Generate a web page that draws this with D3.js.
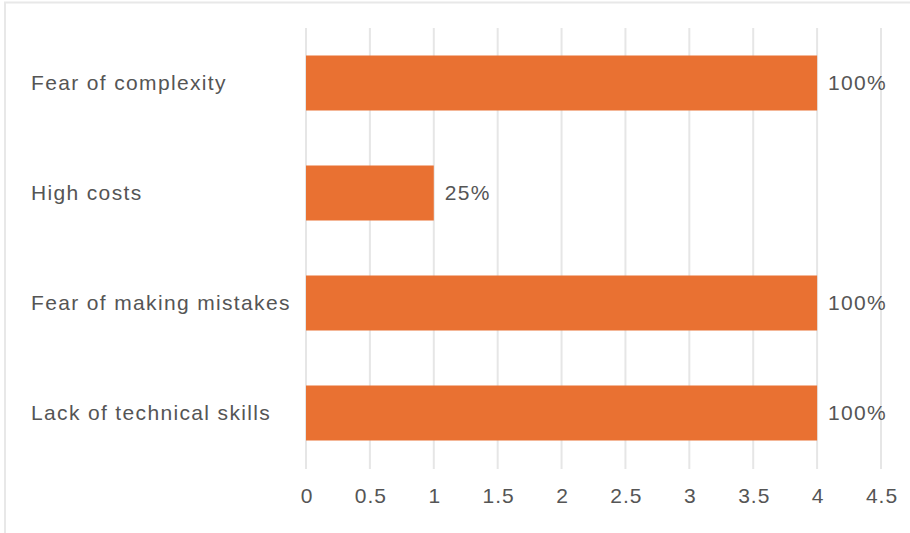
<!DOCTYPE html>
<html><head><meta charset="utf-8">
<script src="https://cdn.jsdelivr.net/npm/d3@7"></script>
<style>
html,body{margin:0;padding:0;background:#fff;}
svg{display:block;font-family:"Liberation Sans",Arial,sans-serif;}
</style></head>
<body><svg id="c" width="910" height="533"></svg>
<script>
const categories = ["Fear of complexity","High costs","Fear of making mistakes","Lack of technical skills"];
const values = [4,1,4,4];
const valueLabels = ["100%","25%","100%","100%"];
const xTicks = [0,0.5,1,1.5,2,2.5,3,3.5,4,4.5];

const svg = d3.select("#c");
// frame
svg.append("rect").attr("x",5).attr("y",2.5).attr("width",920).attr("height",560)
  .attr("fill","none").attr("stroke","#e8e8e8").attr("stroke-width",2);

const x = d3.scaleLinear().domain([0,4.5]).range([306,881]);
const y = d3.scaleBand().domain(categories).range([28,468]).paddingInner(0.5).paddingOuter(0.25);

// gridlines
svg.append("g").selectAll("line").data(xTicks).join("line")
  .attr("x1",d=>x(d)).attr("x2",d=>x(d)).attr("y1",28).attr("y2",469)
  .attr("stroke","#e6e6e6").attr("stroke-width",2);

// bars
svg.append("g").selectAll("rect").data(values).join("rect")
  .attr("x",x(0)).attr("y",(d,i)=>y(categories[i]))
  .attr("width",d=>x(d)-x(0)).attr("height",y.bandwidth())
  .attr("fill","#e97132");

// value labels
svg.append("g").selectAll("text").data(values).join("text")
  .attr("x",d=>x(d)+11).attr("y",(d,i)=>y(categories[i])+y.bandwidth()/2)
  .attr("dy","0.35em").attr("fill","#555").attr("font-size",21).attr("letter-spacing",1.3)
  .text((d,i)=>valueLabels[i]);

// category labels
svg.append("g").selectAll("text").data(categories).join("text")
  .attr("x",31).attr("y",d=>y(d)+y.bandwidth()/2)
  .attr("dy","0.35em").attr("fill","#555").attr("font-size",21).attr("letter-spacing",1.35)
  .text(d=>d);

// x axis labels
const axis = d3.axisBottom(x).tickValues(xTicks).tickSize(0).tickPadding(0).tickFormat(d3.format("~g"));
const ag = svg.append("g").attr("transform","translate(0,488)").call(axis);
ag.select(".domain").remove();
ag.selectAll("text").attr("fill","#555").attr("font-size",21).attr("letter-spacing",1)
  .attr("dx","0.5").attr("font-family","'Liberation Sans',Arial,sans-serif");
</script></body></html>
